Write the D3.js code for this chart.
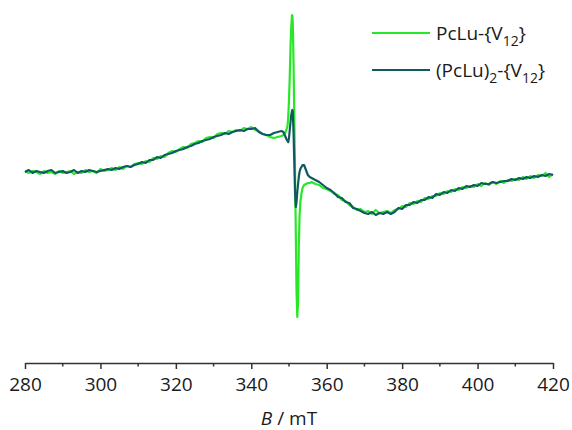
<!DOCTYPE html>
<html>
<head>
<meta charset="utf-8">
<script src="https://cdn.jsdelivr.net/npm/d3@7"></script>
<style>
  body { margin: 0; background: #fff; }
  svg text { font-family: "Open Sans", "Noto Sans", sans-serif; fill: #1a1a1a; }
</style>
</head>
<body>
<div id="chart"></div>
<script>
// magnetic field (mT)
const field = [
  280, 281, 282, 283, 284, 285, 286, 287, 288, 289,
  290, 291, 292, 293, 294, 295, 296, 297, 298, 299,
  300, 301, 302, 303, 304, 305, 306, 307, 308, 309,
  310, 311, 312, 313, 314, 315, 316, 317, 318, 319,
  320, 321, 322, 323, 324, 325, 326, 327, 328, 329,
  330, 331, 332, 333, 334, 335, 336, 337, 338, 339,
  340, 341, 342, 343, 344, 345, 346, 347,
  348, 348.5, 349, 349.3, 349.6, 349.8, 350.0, 350.2, 350.4, 350.6,
  350.8, 350.9, 351.0, 351.2, 351.4, 351.6, 351.8, 352.0, 352.2, 352.4,
  352.6, 352.8, 353.0, 353.3, 353.6, 354, 354.5, 355, 355.5, 356,
  357, 358, 359, 360, 361, 362, 363, 364, 365, 366,
  367, 368, 369, 370, 371, 372, 373, 374, 375, 376,
  377, 378, 379, 380, 381, 382, 383, 384, 385, 386,
  387, 388, 389, 390, 391, 392, 393, 394, 395, 396,
  397, 398, 399, 400, 401, 402, 403, 404, 405, 406,
  407, 408, 409, 410, 411, 412, 413, 414, 415, 416,
  417, 418, 419, 420
];

// EPR signal, arbitrary units
const pcLu = [
  1, -1, 1, 0, -2, 1, -1, 0, -2, 1,
  -1, 0, 1, -2, 0, -1, 2, 0, 1, -1,
  3, 1, 2, 4, 2, 5, 3, 6, 5, 8,
  9, 8, 11, 10, 14, 13, 16, 15, 19, 21,
  20, 23, 25, 24, 28, 29, 31, 30, 34, 35,
  34, 38, 39, 38, 41, 40, 42, 41, 44, 43,
  45, 42, 41, 38, 37, 35, 34, 35,
  36, 37, 39, 42, 46, 55, 72, 95, 125, 145,
  157, 156, 150, 110, 55, 0, -60, -120, -145, -130,
  -75, -45, -30, -22, -16, -13, -12, -11, -11, -10,
  -12, -13, -16, -17, -19, -22, -23, -28, -29, -33,
  -35, -38, -37, -40, -39, -42, -38, -41, -40, -39,
  -41, -38, -37, -34, -35, -31, -32, -29, -30, -26,
  -27, -24, -24, -21, -22, -19, -20, -17, -18, -15,
  -16, -14, -15, -12, -14, -11, -13, -10, -12, -9,
  -11, -8, -9, -7, -8, -5, -7, -4, -6, -3,
  -4, -1, -5, -2
];

const pcLu2 = [
  0, 2, -1, 1, 0, -1, 1, 2, -1, 0,
  1, -1, 0, 2, -1, 1, 0, 2, 1, 0,
  1, 2, 3, 2, 4, 3, 5, 6, 5, 7,
  8, 10, 9, 12, 12, 15, 14, 17, 18, 19,
  21, 22, 23, 25, 26, 28, 29, 31, 32, 33,
  35, 36, 37, 39, 38, 40, 41, 42, 41, 43,
  43, 44, 40, 38, 37, 37, 39, 40,
  41, 40, 36, 33, 31, 30, 34, 42, 50, 57,
  61, 62, 60, 40, 10, -20, -35, -30, -20, -12,
  -5, 0, 3, 5, 7, 7, 2, -3, -5, -6,
  -8, -10, -13, -16, -18, -21, -25, -26, -30, -31,
  -36, -37, -39, -41, -42, -40, -43, -41, -42, -40,
  -42, -40, -36, -37, -33, -33, -30, -31, -28, -28,
  -25, -26, -22, -23, -20, -21, -18, -19, -16, -17,
  -14, -15, -13, -14, -11, -12, -12, -10, -11, -10,
  -9, -9, -7, -8, -6, -7, -5, -6, -4, -5,
  -3, -4, -2, -3
];

const majorTicks = [280, 300, 320, 340, 360, 380, 400, 420];
const minorTicks = [290, 310, 330, 350, 370, 390, 410];

const colors = { pcLu: "#27e827", pcLu2: "#0f5a60" };

const width = 572, height = 430;
const svg = d3.select("#chart").append("svg")
  .attr("width", width)
  .attr("height", height);

const x = d3.scaleLinear().domain([280, 420]).range([25, 553]);
const y = d3.scaleLinear().domain([-160, 160]).range([332, 12]);

const line = values => d3.line()
  .x((d, i) => x(field[i]))
  .y(d => y(d))(values);

// teal drawn over green
svg.append("path")
  .attr("d", line(pcLu))
  .attr("fill", "none")
  .attr("stroke", colors.pcLu)
  .attr("stroke-width", 2.2)
  .attr("stroke-linejoin", "round");

svg.append("path")
  .attr("d", line(pcLu2))
  .attr("fill", "none")
  .attr("stroke", colors.pcLu2)
  .attr("stroke-width", 2.2)
  .attr("stroke-linejoin", "round");

// x axis
const axisY = 363;
const xAxis = svg.append("g")
  .attr("transform", `translate(0,${axisY})`)
  .call(d3.axisBottom(x).tickValues(majorTicks).tickSize(6).tickSizeOuter(0).tickPadding(9));
xAxis.selectAll("text")
  .style("font-size", "19px")
  .style("font-family", "'Open Sans', sans-serif")
  .attr("fill", "#1a1a1a");
xAxis.selectAll("path, line").attr("stroke", "#333").attr("stroke-width", 1.5);

svg.append("g")
  .selectAll("line")
  .data(minorTicks)
  .join("line")
  .attr("x1", d => x(d))
  .attr("x2", d => x(d))
  .attr("y1", axisY)
  .attr("y2", axisY + 3.5)
  .attr("stroke", "#333")
  .attr("stroke-width", 1.5);

// axis title
const title = svg.append("text")
  .attr("x", 289)
  .attr("y", 425)
  .attr("text-anchor", "middle")
  .style("font-size", "19px");
title.append("tspan").style("font-style", "italic").text("B");
title.append("tspan").text(" / mT");

// legend
const lg = svg.append("g");
const legendY = [33, 70];

lg.append("line")
  .attr("x1", 372).attr("x2", 430)
  .attr("y1", legendY[0]).attr("y2", legendY[0])
  .attr("stroke", colors.pcLu).attr("stroke-width", 2.2);
const t1 = lg.append("text")
  .attr("x", 436).attr("y", legendY[0] + 7)
  .style("font-size", "19px");
t1.append("tspan").text("PcLu-{V");
t1.append("tspan").attr("dy", 6).style("font-size", "14px").text("12");
t1.append("tspan").attr("dy", -6).text("}");

lg.append("line")
  .attr("x1", 372).attr("x2", 430)
  .attr("y1", legendY[1]).attr("y2", legendY[1])
  .attr("stroke", colors.pcLu2).attr("stroke-width", 2.2);
const t2 = lg.append("text")
  .attr("x", 436).attr("y", legendY[1] + 7)
  .style("font-size", "19px");
t2.append("tspan").text("(PcLu)");
t2.append("tspan").attr("dy", 6).style("font-size", "14px").text("2");
t2.append("tspan").attr("dy", -6).text("-{V");
t2.append("tspan").attr("dy", 6).style("font-size", "14px").text("12");
t2.append("tspan").attr("dy", -6).text("}");
</script>
</body>
</html>
